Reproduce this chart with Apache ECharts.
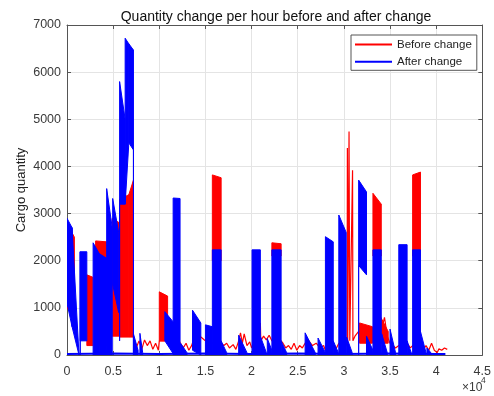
<!DOCTYPE html>
<html>
<head>
<meta charset="utf-8">
<script src="https://cdn.jsdelivr.net/npm/echarts@6/dist/echarts.min.js"></script>
<style>html,body{margin:0;padding:0;background:#fff;}#c{width:494px;height:396px;}</style>
</head>
<body>
<div id="c"></div>
<script>
// ---- data (x in raw units, y = cargo quantity) ----
const seriesNames = ['Before change', 'After change'];
const xTickLabels = ['0','0.5','1','1.5','2','2.5','3','3.5','4','4.5'];
const yTickLabels = ['0','1000','2000','3000','4000','5000','6000','7000'];

// dense oscillation envelopes: [x0, x1, low0, high0, low1, high1]
const beforeBands = [
  [0, 800, 1000, 2800, 800, 2500],
  [2150, 2800, 200, 1700, 200, 1650],
  [3100, 4300, 200, 2420, 200, 2400],
  [4900, 5700, 400, 2900, 400, 2800],
  [5700, 6700, 380, 3300, 380, 3400],
  [6700, 7200, 380, 3400, 380, 3710],
  [10000, 10900, 300, 1340, 300, 1250],
  [15750, 16700, 2000, 3820, 2000, 3760],
  [22200, 23200, 2100, 2380, 2100, 2360],
  [31700, 33100, 250, 680, 250, 600],
  [33150, 34050, 2100, 3430, 2100, 3200],
  [34000, 34800, 250, 800, 250, 500],
  [37450, 38300, 2100, 3820, 2100, 3880]
];
const afterBands = [
  [0, 550, 1100, 2900, 600, 2700],
  [550, 1300, 600, 2700, 0, 0],
  [1430, 2150, 300, 2190, 300, 2190],
  [1430, 1430, 0, 2190, 0, 2190],
  [2830, 3500, 0, 2380, 0, 2150],
  [3500, 4300, 0, 2150, 0, 2050],
  [4300, 4900, 0, 3530, 0, 2700],
  [4950, 5600, 1500, 3320, 900, 2600],
  [5700, 6300, 3200, 5800, 3200, 5000],
  [6300, 6700, 3200, 6720, 4500, 6600],
  [6700, 7200, 4500, 6600, 4350, 6470],
  [5700, 5700, 300, 3200, 300, 3200],
  [7200, 7200, 0, 4350, 0, 4350],
  [7200, 7700, 0, 450, 0, 100],
  [7900, 8200, 0, 460, 0, 50],
  [10600, 11600, 300, 920, 0, 680],
  [11500, 12250, 0, 3330, 0, 3320],
  [12300, 13000, 0, 250, 0, 50],
  [13600, 14500, 100, 950, 0, 680],
  [15000, 15750, 0, 640, 0, 600],
  [15750, 16700, 0, 2230, 0, 2230],
  [16700, 17300, 0, 300, 0, 50],
  [18600, 19500, 0, 420, 0, 50],
  [20050, 20950, 0, 2230, 0, 2230],
  [20950, 21600, 0, 400, 0, 50],
  [21700, 22200, 0, 350, 0, 100],
  [22200, 23200, 0, 2230, 0, 2230],
  [23200, 23800, 0, 300, 0, 50],
  [25800, 26900, 0, 470, 0, 50],
  [27200, 28000, 0, 360, 0, 50],
  [28000, 28850, 0, 2510, 0, 2400],
  [28850, 29400, 0, 300, 0, 50],
  [29450, 30250, 0, 2970, 0, 2600],
  [30300, 30900, 0, 380, 0, 50],
  [31600, 32450, 1900, 3710, 1700, 3460],
  [31600, 31600, 0, 1900, 0, 1900],
  [32450, 33150, 0, 400, 0, 100],
  [33150, 34050, 0, 2230, 0, 2230],
  [34100, 34700, 0, 450, 0, 50],
  [35000, 35600, 0, 550, 0, 50],
  [35950, 36850, 0, 2340, 0, 2340],
  [36850, 37300, 0, 300, 0, 50],
  [37450, 38300, 0, 2230, 0, 2230],
  [38300, 38900, 0, 500, 0, 50],
  [39000, 39500, 0, 150, 0, 30]
];

// thin low-level traces [x, y]
const beforeTrace = [
  [7200,380],[7500,150],[7800,300],[8100,120],[8400,320],[8700,200],[9000,300],[9300,120],[9600,250],[9900,100],[10000,300],
  [10900,300],[11100,450],[11300,350],[11600,420],[12000,350],[12300,250],[12600,150],[12900,250],[13200,100],[13500,200],
  [13800,380],[14100,330],[14400,400],[14700,350],[15000,300],[15400,330],[15750,250],[16700,250],[17000,200],[17300,250],
  [17600,150],[18000,220],[18300,120],[18600,300],[18800,470],[19000,250],[19200,450],[19500,200],[19800,280],[20000,150],
  [20950,680],[21000,300],[21300,400],[21600,320],[21900,420],[22200,300],[23200,300],[23400,250],[23700,150],[24000,200],
  [24300,120],[24600,250],[24900,100],[25200,200],[25500,150],[25800,250],[26200,300],[26600,200],[27000,250],[27400,150],
  [27800,200],[28000,100],[28900,200],[29200,150],[29450,250],[30250,200],[30350,300],[30380,4390],[30420,300],[30560,4740],
  [30600,4700],[30640,300],[30940,3920],[30980,300],[31200,400],[31600,500],[33100,400],[34050,500],[34400,800],[34700,400],
  [35000,250],[35300,200],[35600,150],[35950,200],[36850,250],[37200,150],[37450,200],[38300,150],[38600,120],[38900,200],
  [39200,100],[39500,250],[39800,100],[40100,50],[40300,130],[40600,100],[40900,150],[41200,120]
];
const afterTrace = [
  [0,20],[5000,30],[10000,20],[15000,30],[20000,20],[25000,30],[30000,20],[35000,30],[40000,20],[41000,20]
];

const RED = '#ff0000', BLUE = '#0000ff';

function bandRenderer(color){
  return function(params, api){
    const x0 = api.value(0), x1 = api.value(1);
    const pts = [
      api.coord([x0, api.value(3)]),
      api.coord([x1, api.value(5)]),
      api.coord([x1, api.value(4)]),
      api.coord([x0, api.value(2)])
    ];
    return {type:'polygon', shape:{points:pts}, style:{fill:color, stroke:color, lineWidth:1}};
  };
}

const chart = echarts.init(document.getElementById('c'), null, {renderer:'canvas'});
const FONT = 'Liberation Sans, Arial, sans-serif';
const axisColor = '#555555';
const textColor = '#3a3a3a';

chart.setOption({
  animation: false,
  backgroundColor: '#ffffff',
  title: {
    text: 'Quantity change per hour before and after change',
    left: 271, top: 5, textAlign: 'center',
    textStyle: {fontFamily: FONT, fontSize: 14, fontWeight: 'normal', color: '#111'}
  },
  legend: {
    orient: 'vertical', left: 351, top: 35,
    padding: [3.5, 5, 2.6, 4],
    itemWidth: 37, itemHeight: 2, itemGap: 5.2,
    backgroundColor: '#fff', borderColor: '#555', borderWidth: 1, borderRadius: 0,
    textStyle: {fontFamily: FONT, fontSize: 11.5, color: '#222'},
    data: [
      {name: seriesNames[0], icon: 'rect', itemStyle: {color: RED}},
      {name: seriesNames[1], icon: 'rect', itemStyle: {color: BLUE}}
    ],
    selectedMode: false
  },
  grid: {left: 67, right: 9, top: 25, bottom: 41, containLabel: false},
  xAxis: [
    {
      type: 'value', min: 0, max: 45000, interval: 5000, position: 'bottom',
      axisLine: {show: true, onZero: false, lineStyle: {color: axisColor, width: 1}},
      axisTick: {show: true, inside: true, length: 4, lineStyle: {color: axisColor}},
      axisLabel: {margin: 10, fontFamily: FONT, fontSize: 12.5, color: textColor,
        formatter: v => xTickLabels[Math.round(v / 5000)]},
      splitLine: {show: true, lineStyle: {color: '#e4e4e4', width: 1}}
    },
    {
      type: 'value', min: 0, max: 45000, interval: 5000, position: 'top',
      axisLine: {show: true, onZero: false, lineStyle: {color: axisColor, width: 1}},
      axisTick: {show: true, inside: true, length: 4, lineStyle: {color: axisColor}},
      axisLabel: {show: false}, splitLine: {show: false}
    }
  ],
  yAxis: [
    {
      type: 'value', min: 0, max: 7000, interval: 1000, position: 'left',
      name: 'Cargo quantity', nameLocation: 'middle', nameGap: 39, nameMoveOverlap: false,
      nameTextStyle: {fontFamily: FONT, fontSize: 13, color: '#222'},
      axisLine: {show: true, onZero: false, lineStyle: {color: axisColor, width: 1}},
      axisTick: {show: true, inside: true, length: 4, lineStyle: {color: axisColor}},
      axisLabel: {margin: 6, fontFamily: FONT, fontSize: 12.5, color: textColor,
        formatter: v => yTickLabels[Math.round(v / 1000)]},
      splitLine: {show: true, lineStyle: {color: '#e4e4e4', width: 1}}
    },
    {
      type: 'value', min: 0, max: 7000, interval: 1000, position: 'right',
      axisLine: {show: true, onZero: false, lineStyle: {color: axisColor, width: 1}},
      axisTick: {show: true, inside: true, length: 4, lineStyle: {color: axisColor}},
      axisLabel: {show: false}, splitLine: {show: false}
    }
  ],
  graphic: [
    {type: 'text', left: 462, top: 382, style: {text: '×10', font: '12px Liberation Sans, Arial, sans-serif', fill: textColor}},
    {type: 'text', left: 481, top: 376, style: {text: '4', font: '8.5px Liberation Sans, Arial, sans-serif', fill: textColor}}
  ],
  series: [
    {
      name: seriesNames[0], type: 'line', data: beforeTrace, showSymbol: false, symbol: 'none',
      lineStyle: {color: RED, width: 1.2}, itemStyle: {color: RED}, z: 2, silent: true
    },
    {
      name: seriesNames[0], type: 'custom', data: beforeBands, renderItem: bandRenderer(RED),
      encode: {x: [0, 1], y: [2, 3, 4, 5]}, itemStyle: {color: RED}, clip: true, z: 3, silent: true
    },
    {
      name: seriesNames[1], type: 'line', data: afterTrace, showSymbol: false, symbol: 'none',
      lineStyle: {color: BLUE, width: 2}, itemStyle: {color: BLUE}, z: 4, silent: true
    },
    {
      name: seriesNames[1], type: 'custom', data: afterBands, renderItem: bandRenderer(BLUE),
      encode: {x: [0, 1], y: [2, 3, 4, 5]}, itemStyle: {color: BLUE}, clip: true, z: 5, silent: true
    }
  ]
});
</script>
</body>
</html>
